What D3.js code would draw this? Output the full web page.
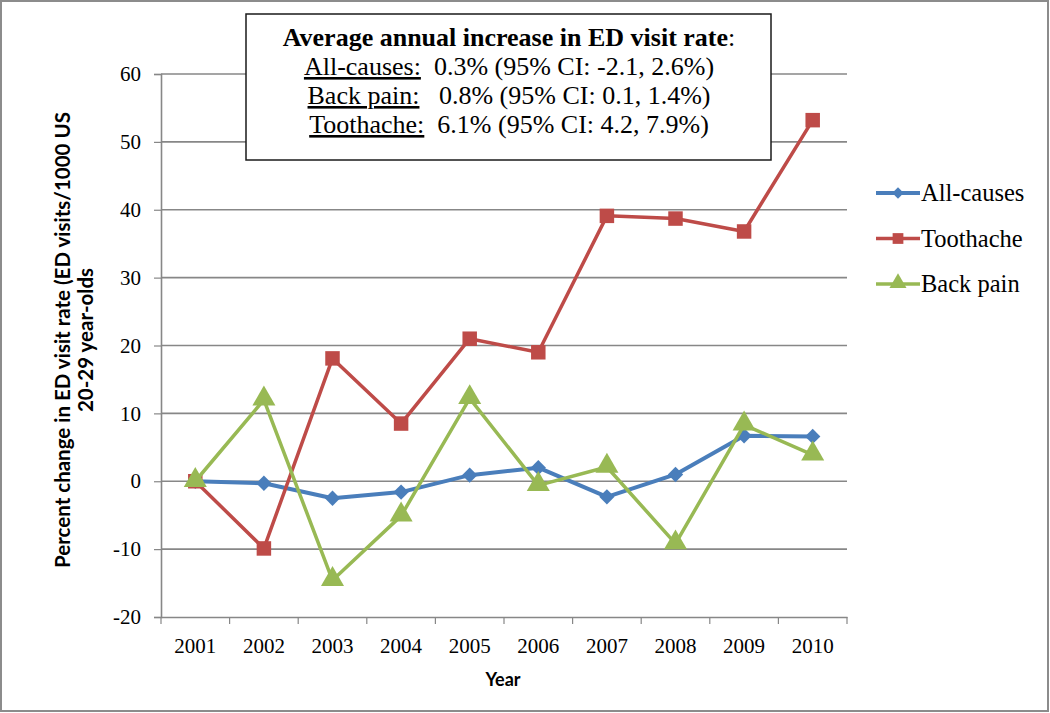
<!DOCTYPE html>
<html>
<head>
<meta charset="utf-8">
<script src="https://cdn.jsdelivr.net/npm/d3@7"></script>
<style>
  body { margin: 0; background: #fff; }
  svg { display: block; }
</style>
</head>
<body>
<svg id="chart" width="1050" height="713"></svg>
<script>
// chart data
var years = ['2001', '2002', '2003', '2004', '2005', '2006', '2007', '2008', '2009', '2010'];
var allCauses = [0, -0.3, -2.5, -1.6, 0.9, 2.0, -2.3, 1.0, 6.7, 6.6];
var toothache = [0, -9.9, 18.1, 8.5, 21.0, 19.0, 39.1, 38.7, 36.8, 53.2];
var backPain = [0, 12.0, -14.6, -5.1, 12.2, -0.6, 2.1, -9.2, 8.3, 3.9];
var yTicks = [-20, -10, 0, 10, 20, 30, 40, 50, 60];
var seriesNames = ['All-causes', 'Toothache', 'Back pain'];
var boxTitle = 'Average annual increase in ED visit rate';
var boxLabels = ['All-causes:', 'Back pain:', 'Toothache:'];
var boxValues = ['0.3% (95% CI: -2.1, 2.6%)', '0.8% (95% CI: 0.1, 1.4%)', '6.1% (95% CI: 4.2, 7.9%)'];

var series = [
  {name: seriesNames[0], values: allCauses, color: '#4A7EBB', shape: 'diamond', width: 4},
  {name: seriesNames[1], values: toothache, color: '#BE4B48', shape: 'square', width: 3.5},
  {name: seriesNames[2], values: backPain, color: '#98B954', shape: 'triangle', width: 3.5}
];

var svg = d3.select('#chart');
var plotLeft = 161, plotRight = 847, plotTop = 74, plotBottom = 617;
var gridColor = '#878787';
var serif = 'Liberation Serif, Times New Roman, serif';
var sans = 'Lato, Open Sans, sans-serif';

// outer frame
svg.append('rect')
  .attr('x', 1).attr('y', 1).attr('width', 1047).attr('height', 710)
  .attr('fill', 'white').attr('stroke', '#8c8c8c').attr('stroke-width', 2);

var x = d3.scaleBand().domain(years).range([plotLeft, plotRight]);
var y = d3.scaleLinear().domain([-20, 60]).range([plotBottom, plotTop]);

// gridlines
svg.append('g').selectAll('line')
  .data(yTicks.filter(function(d) { return d !== -20; }))
  .enter().append('line')
  .attr('x1', plotLeft).attr('x2', plotRight)
  .attr('y1', function(d) { return y(d); })
  .attr('y2', function(d) { return y(d); })
  .attr('stroke', gridColor).attr('stroke-width', 1.6);

// y axis
var yAxis = svg.append('g')
  .attr('transform', 'translate(' + plotLeft + ',0)')
  .call(d3.axisLeft(y).tickValues(yTicks).tickFormat(function(d) { return String(d); })
    .tickSize(7).tickPadding(13));
yAxis.select('.domain').attr('stroke', gridColor).attr('stroke-width', 1.6);
yAxis.selectAll('.tick line').attr('stroke', gridColor).attr('stroke-width', 1.2);
yAxis.selectAll('text')
  .attr('font-family', serif)
  .attr('font-size', 21).attr('fill', '#000');

// x axis
var xAxis = svg.append('g')
  .attr('transform', 'translate(0,' + plotBottom + ')')
  .call(d3.axisBottom(x).tickSize(0).tickPadding(21));
xAxis.select('.domain').attr('stroke', gridColor).attr('stroke-width', 1.6);
xAxis.selectAll('text')
  .attr('font-family', serif)
  .attr('font-size', 21).attr('fill', '#000');
// category boundary ticks
svg.append('g').selectAll('line')
  .data(years.concat(['end']))
  .enter().append('line')
  .attr('x1', function(d, i) { return plotLeft + i * x.step(); })
  .attr('x2', function(d, i) { return plotLeft + i * x.step(); })
  .attr('y1', plotBottom).attr('y2', plotBottom + 7)
  .attr('stroke', gridColor).attr('stroke-width', 1.2);

// axis titles
svg.append('text')
  .attr('x', 503).attr('y', 686)
  .attr('text-anchor', 'middle')
  .attr('font-family', sans).attr('font-weight', 'bold')
  .attr('font-size', 18)
  .text('Year');

var yTitle = svg.append('text')
  .attr('transform', 'translate(70,' + 340 + ') rotate(-90)')
  .attr('text-anchor', 'middle')
  .attr('font-family', sans).attr('font-weight', 'bold')
  .attr('font-size', 20.5);
yTitle.append('tspan').attr('x', 0).attr('y', 0)
  .text('Percent change in ED visit rate (ED visits/1000 US');
yTitle.append('tspan').attr('x', 0).attr('y', 23)
  .text('20-29 year-olds');

// lines
var line = d3.line()
  .x(function(d, i) { return x(years[i]) + x.bandwidth() / 2; })
  .y(function(d) { return y(d); });

function markerPath(shape, small) {
  var k = small ? 0.55 : 1;
  if (shape === 'diamond') return d3.symbol().type(d3.symbolDiamond2).size(150 * k)();
  if (shape === 'square') return d3.symbol().type(d3.symbolSquare).size(210 * k)();
  return d3.symbol().type(d3.symbolTriangle).size(230 * k)();
}

series.forEach(function(s) {
  svg.append('path')
    .datum(s.values)
    .attr('d', line)
    .attr('fill', 'none')
    .attr('stroke', s.color)
    .attr('stroke-width', s.width)
    .attr('stroke-linejoin', 'round');
  svg.append('g').selectAll('path')
    .data(s.values)
    .enter().append('path')
    .attr('d', markerPath(s.shape))
    .attr('transform', function(d, i) {
      var dy = s.shape === 'triangle' ? -1 : 0;
      return 'translate(' + (x(years[i]) + x.bandwidth() / 2) + ',' + (y(d) + dy) + ')';
    })
    .attr('fill', s.color);
});

// legend
var legend = svg.append('g').attr('transform', 'translate(876,193)');
series.forEach(function(s, i) {
  var g = legend.append('g').attr('transform', 'translate(0,' + (i * 45.5) + ')');
  g.append('line').attr('x1', 0).attr('x2', 44).attr('y1', 0).attr('y2', 0)
    .attr('stroke', s.color).attr('stroke-width', s.width);
  g.append('path').attr('d', markerPath(s.shape, true))
    .attr('transform', 'translate(22,' + (s.shape === 'triangle' ? -1 : 0) + ')')
    .attr('fill', s.color);
  g.append('text').attr('x', 45).attr('y', 8)
    .attr('font-family', serif)
    .attr('font-size', 24.5)
    .text(s.name);
});

// annotation box
svg.append('rect')
  .attr('x', 246).attr('y', 14).attr('width', 525).attr('height', 146)
  .attr('fill', 'white').attr('stroke', '#1a1a1a').attr('stroke-width', 1.5);

var boxCx = 509;
svg.append('text')
  .attr('x', boxCx).attr('y', 46)
  .attr('text-anchor', 'middle')
  .attr('font-family', serif)
  .attr('font-size', 26)
  .call(function(t) {
    t.append('tspan').attr('font-weight', 'bold').text(boxTitle);
    t.append('tspan').text(':');
  });

boxLabels.forEach(function(lab, i) {
  var t = svg.append('text')
    .attr('x', boxCx).attr('y', 75 + i * 29)
    .attr('text-anchor', 'middle')
    .attr('font-family', serif)
    .attr('font-size', 26)
    .attr('xml:space', 'preserve');
  t.append('tspan').attr('text-decoration', 'underline').text(lab);
  t.append('tspan').text(i === 1 ? '   ' : '  ');
  t.append('tspan').text(boxValues[i]);
});
</script>
</body>
</html>
